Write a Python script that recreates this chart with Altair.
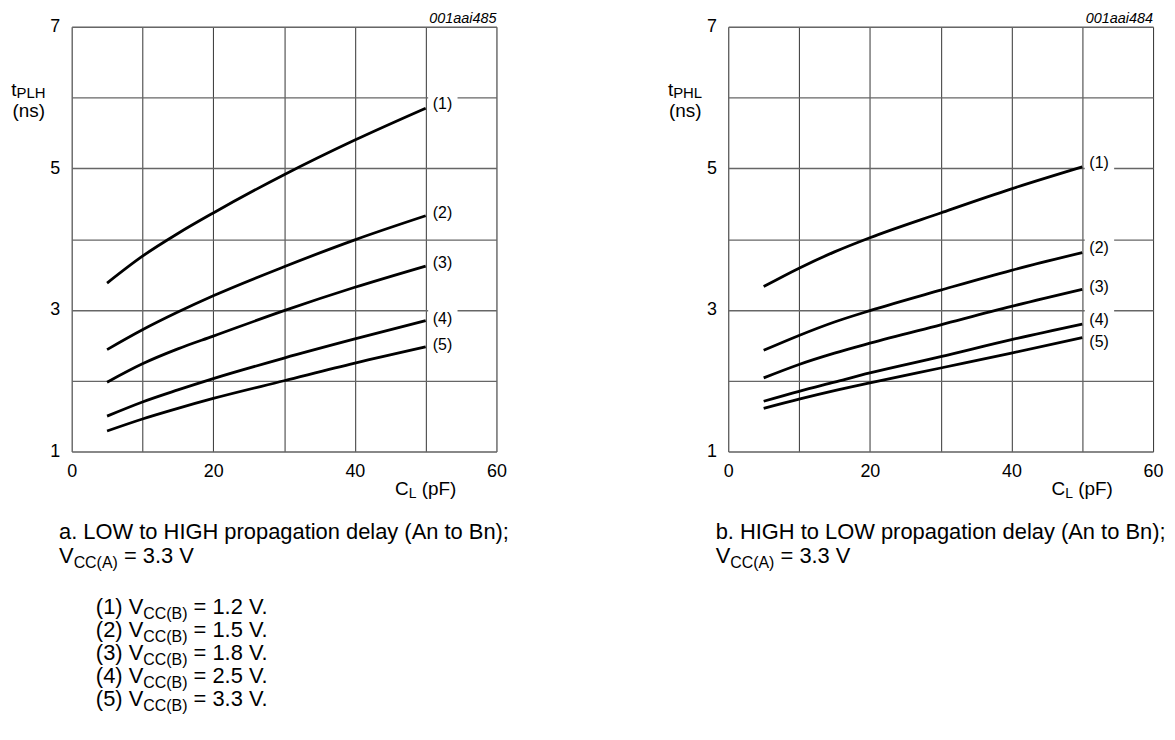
import altair as alt
import pandas as pd

# ---------------- data ----------------
CL = [5, 10, 15, 20, 30, 40, 50]                     # load capacitance (pF)
CURVES = ["(1)", "(2)", "(3)", "(4)", "(5)"]
VCCB = ["1.2", "1.5", "1.8", "2.5", "3.3"]

# a. t_PLH (ns)
PLH_1 = [3.38, 3.76, 4.08, 4.37, 4.91, 5.40, 5.85]
PLH_2 = [2.44, 2.72, 2.97, 3.20, 3.61, 3.99, 4.33]
PLH_3 = [1.98, 2.24, 2.45, 2.63, 2.99, 3.32, 3.62]
PLH_4 = [1.50, 1.70, 1.87, 2.03, 2.32, 2.59, 2.85]
PLH_5 = [1.29, 1.46, 1.61, 1.75, 2.00, 2.25, 2.48]

# b. t_PHL (ns)
PHL_1 = [3.33, 3.59, 3.82, 4.02, 4.37, 4.71, 5.02]
PHL_2 = [2.43, 2.64, 2.83, 2.99, 3.28, 3.56, 3.81]
PHL_3 = [2.04, 2.23, 2.39, 2.53, 2.79, 3.05, 3.29]
PHL_4 = [1.71, 1.85, 1.98, 2.11, 2.34, 2.58, 2.80]
PHL_5 = [1.61, 1.74, 1.86, 1.97, 2.18, 2.39, 2.61]

# curve label anchors (data units)
LABEL_X = 51.0
LABEL_Y_PLH = [5.91, 4.37, 3.66, 2.87, 2.50]
LABEL_Y_PHL = [5.07, 3.87, 3.33, 2.86, 2.54]

X_TICKS = [0, 10, 20, 30, 40, 50, 60]
X_LABELED = [0, 20, 40, 60]
Y_TICKS = [1, 2, 3, 4, 5, 6, 7]
Y_LABELED = [1, 3, 5, 7]

FIG_IDS = ["001aai485", "001aai484"]
Y_TITLES = ["PLH", "PHL"]
CAPTIONS = ["a. LOW to HIGH propagation delay (An to Bn);",
            "b. HIGH to LOW propagation delay (An to Bn);"]

# ---------------- styling ----------------
FONT = "Liberation Sans"
W, H = 427, 427
ONE = alt.Data(values=[{}])

ADV = {' ': 278, '(': 333, ')': 333, '.': 278, ';': 278, '=': 584, 'A': 667, 'B': 667,
       'C': 722, 'F': 611, 'G': 778, 'H': 722, 'I': 278, 'L': 556, 'O': 778, 'P': 667,
       'V': 667, 'W': 944, 'a': 556, 'b': 556, 'd': 556, 'e': 556, 'g': 556, 'i': 222,
       'l': 222, 'n': 556, 'o': 556, 'p': 556, 'r': 333, 's': 500, 't': 278, 'y': 500}


def tw(s, fs):
    return sum(ADV.get(c, 556) for c in s) * fs / 1000.0


def txt(s, x, y, size, align="left", baseline="alphabetic", style="normal"):
    return alt.Chart(ONE).mark_text(
        text=s, align=align, baseline=baseline, fontSize=size, font=FONT,
        fontStyle=style, color="black"
    ).encode(x=alt.value(x), y=alt.value(y))


def rich(segments, x0, y, fs, sfs, sub_dy):
    out = []
    x = x0
    for s, sub in segments:
        size = sfs if sub else fs
        lead = len(s) - len(s.lstrip(" "))
        x += tw(" " * lead, size)
        s = s.lstrip(" ")
        out.append(txt(s, x, y + (sub_dy if sub else 0), size))
        x += tw(s, size)
    return out


XS = alt.Scale(domain=[0, 60], nice=False, zero=False)
YS = alt.Scale(domain=[1, 7], nice=False, zero=False)
XA = alt.Axis(values=X_TICKS, title=None, ticks=False, domain=False, grid=True,
              gridColor="#333333", gridWidth=1, labelFont=FONT, labelFontSize=18,
              labelColor="black", labelPadding=11, labelFlush=False, labelOverlap=False,
              labelExpr=f"indexof({X_LABELED}, datum.value) >= 0 ? datum.label : ''")
YA = alt.Axis(values=Y_TICKS, title=None, ticks=False, domain=False, grid=True,
              gridColor="#666666", gridWidth=1.4, labelFont=FONT, labelFontSize=18,
              labelColor="black", labelPadding=12, labelFlush=False, labelOverlap=False,
              labelExpr=f"indexof({Y_LABELED}, datum.value) >= 0 ? datum.label : ''")


def panel(series, label_y, ysub, fig_id, caption):
    rows = []
    for name, vals in zip(CURVES, series):
        for c, v in zip(CL, vals):
            rows.append({"curve": name, "cl": c, "t": v})
    df = pd.DataFrame(rows)
    lab = pd.DataFrame({"curve": CURVES, "lx": [LABEL_X] * len(CURVES), "ly": label_y})

    lines = alt.Chart(df).mark_line(color="black", strokeWidth=2.8, interpolate="monotone").encode(
        x=alt.X("cl:Q", scale=XS, axis=XA),
        y=alt.Y("t:Q", scale=YS, axis=YA),
        detail="curve:N",
    )
    boxes = alt.Chart(lab).transform_calculate(
        bx1="datum.lx - 0.65", bx2="datum.lx + 3.5",
        by1="datum.ly - 0.16", by2="datum.ly + 0.16",
    ).mark_rect(color="white").encode(
        x=alt.X("bx1:Q", scale=XS, axis=XA), x2="bx2:Q",
        y=alt.Y("by1:Q", scale=YS, axis=YA), y2="by2:Q",
    )
    labels = alt.Chart(lab).mark_text(align="left", baseline="middle", fontSize=16,
                                      font=FONT, color="black").encode(
        x=alt.X("lx:Q", scale=XS, axis=XA),
        y=alt.Y("ly:Q", scale=YS, axis=YA),
        text="curve:N",
    )

    ann = []
    # y axis title
    ann += rich([("t", False), (ysub, True)], -60.7, 70, 19, 15, 2)
    ann.append(txt("(ns)", -59.5, 91, 19))
    # x axis title
    ann += rich([("C", False), ("L", True), (" (pF)", False)], 325, 471, 19, 14, 3)
    # figure id
    ann.append(txt(fig_id, W, -4, 14.5, align="right", style="italic"))
    # caption
    ann.append(txt(caption, -12.7, 515, 22))
    ann += rich([("V", False), ("CC(A)", True), (" = 3.3 V", False)], -12.7, 539, 22, 16, 5)
    return alt.layer(lines, boxes, labels, *ann).properties(width=W, height=H)


left = panel([PLH_1, PLH_2, PLH_3, PLH_4, PLH_5], LABEL_Y_PLH, Y_TITLES[0], FIG_IDS[0], CAPTIONS[0])
# condition list under panel a
legend = []
for i, (c, v) in enumerate(zip(CURVES, VCCB)):
    legend += rich([(c + " V", False), ("CC(B)", True), (f" = {v} V.", False)],
                   24.3, 590 + 23.3 * i, 22, 16, 5)
left = alt.layer(left, *legend)

right = panel([PHL_1, PHL_2, PHL_3, PHL_4, PHL_5], LABEL_Y_PHL, Y_TITLES[1], FIG_IDS[1], CAPTIONS[1])

chart = alt.hconcat(left, right, spacing=233, bounds="flush").properties(
    padding={"left": 2, "top": 0, "right": 0, "bottom": 0}
).configure_view(stroke="black", strokeWidth=1.5).configure(background="white")

chart.save("out.html", embed_options={"renderer": "svg", "actions": False})
